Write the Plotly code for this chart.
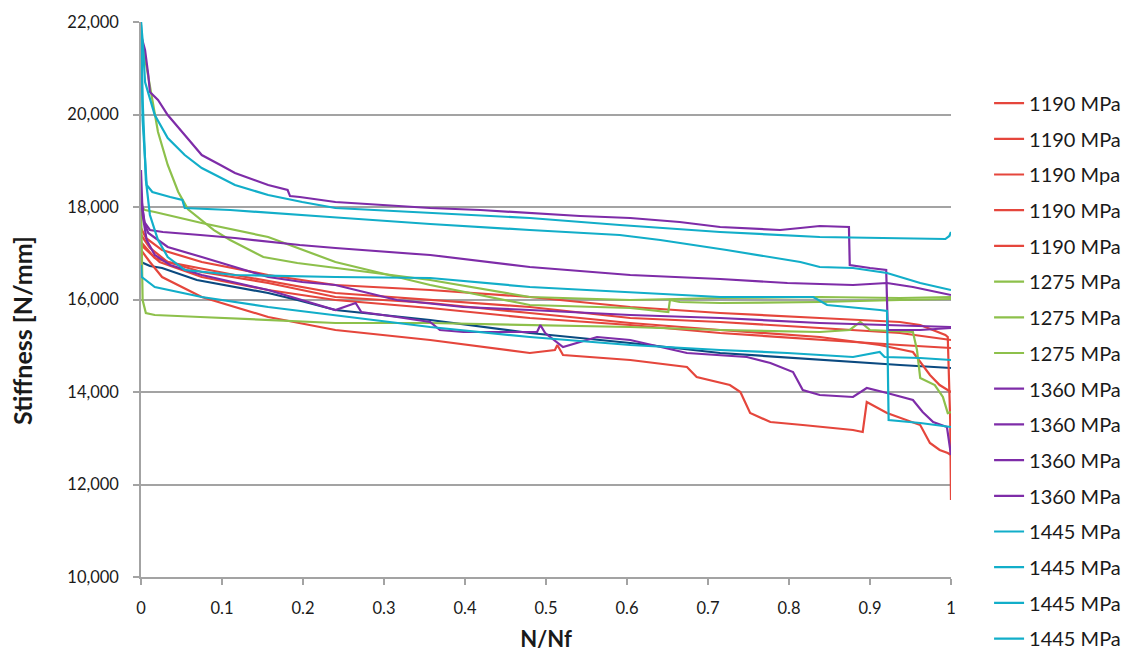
import plotly.graph_objects as go

# ---------------- data ----------------
labels = ["1190 MPa", "1190 MPa", "1190 Mpa", "1190 MPa", "1190 MPa",
          "1275 MPa", "1275 MPa", "1275 MPa",
          "1360 MPa", "1360 MPa", "1360 MPa", "1360 MPa",
          "1445 MPa", "1445 MPa", "1445 MPa", "1445 MPa"]

r1_x = [0, 0.006, 0.026, 0.075, 0.157, 0.240, 0.357, 0.480, 0.604, 0.715, 0.838, 0.937, 0.962, 0.993, 0.996, 0.999, 1.0]
r1_y = [17546, 17330, 17070, 16811, 16530, 16314, 16205, 16054, 15838, 15708, 15600, 15514, 15449, 15232, 15189, 13395, 11665]

r2_x = [0, 0.011, 0.033, 0.116, 0.240, 0.357, 0.480, 0.604, 0.715, 0.838, 0.937, 1.0]
r2_y = [17395, 17114, 16811, 16530, 16141, 15989, 15838, 15600, 15514, 15384, 15276, 15124]

r3_x = [0, 0.017, 0.075, 0.157, 0.240, 0.357, 0.480, 0.604, 0.715, 0.838, 0.912, 0.953, 0.974, 0.986, 1.0]
r3_y = [17243, 16897, 16595, 16357, 16054, 15924, 15708, 15492, 15341, 15189, 15016, 14865, 14368, 14151, 14000]

r4_x = [0, 0.023, 0.075, 0.157, 0.240, 0.357, 0.480, 0.604, 0.715, 0.838, 0.937, 1.0]
r4_y = [17178, 16811, 16486, 16205, 15989, 15816, 15600, 15449, 15276, 15124, 15016, 14951]

r5_x = [0, 0.011, 0.026, 0.075, 0.157, 0.240, 0.357, 0.480, 0.511, 0.514, 0.521, 0.604, 0.674, 0.686,
        0.727, 0.740, 0.752, 0.777, 0.817, 0.879, 0.891, 0.896, 0.921, 0.962, 0.974, 0.986, 0.996, 1.0]
r5_y = [17070, 16811, 16486, 16054, 15622, 15341, 15124, 14843, 14908, 15016, 14800, 14692, 14541, 14324,
        14151, 14000, 13546, 13351, 13286, 13178, 13135, 13784, 13546, 13286, 12897, 12746, 12681, 12638]

g1_x = [0.001, 0.005, 0.014, 0.021, 0.033, 0.046, 0.058, 0.069, 0.090, 0.110, 0.151, 0.193, 0.233, 0.357,
        0.480, 0.604, 0.715, 0.838, 0.937, 1.0]
g1_y = [21611, 21222, 20357, 19622, 18908, 18324, 17950, 17800, 17500, 17286, 16919, 16789, 16703, 16422,
        16054, 15989, 16032, 16054, 16032, 16054]

g2_x = [0, 0.005, 0.017, 0.075, 0.157, 0.240, 0.357, 0.480, 0.604, 0.651, 0.653, 0.665, 0.715, 0.838, 0.937, 1.0]
g2_y = [18000, 17935, 17892, 17654, 17351, 16811, 16314, 15881, 15816, 15730, 15989, 15946, 15924, 15946, 15989, 16011]

g3_x = [0, 0.002, 0.006, 0.017, 0.073, 0.240, 0.357, 0.480, 0.604, 0.715, 0.838, 0.875, 0.888, 0.900,
        0.953, 0.958, 0.962, 0.980, 0.990, 0.996, 1.0]
g3_y = [18151, 15989, 15708, 15665, 15622, 15492, 15492, 15449, 15405, 15341, 15297, 15341, 15514, 15341,
        15297, 14908, 14303, 14151, 13892, 13546, 13568]

p1_x = [0.001, 0.005, 0.009, 0.011, 0.021, 0.033, 0.054, 0.075, 0.098, 0.116, 0.157, 0.181, 0.184, 0.196,
        0.240, 0.295, 0.357, 0.419, 0.480, 0.542, 0.604, 0.665, 0.715, 0.789, 0.814, 0.838, 0.874, 0.875,
        0.900, 0.920, 0.922, 0.962, 1.0]
p1_y = [21654, 21395, 20854, 20486, 20314, 19989, 19557, 19124, 18908, 18735, 18476, 18367, 18237, 18216,
        18108, 18043, 17978, 17935, 17870, 17805, 17762, 17676, 17568, 17503, 17546, 17589, 17568, 16746,
        16681, 16638, 15341, 15341, 15384]

p2_x = [0, 0.004, 0.011, 0.027, 0.073, 0.116, 0.196, 0.240, 0.357, 0.480, 0.604, 0.715, 0.798, 0.879, 0.921, 0.953, 1.0]
p2_y = [18259, 17676, 17503, 17459, 17395, 17330, 17178, 17114, 16962, 16703, 16530, 16443, 16357, 16314, 16357, 16270, 16097]

p3_x = [0, 0.005, 0.009, 0.033, 0.075, 0.116, 0.157, 0.199, 0.240, 0.316, 0.398, 0.480, 0.604, 0.715, 0.838, 1.0]
p3_y = [18151, 17611, 17438, 17135, 16919, 16703, 16486, 16378, 16314, 15989, 15838, 15773, 15665, 15600, 15492, 15405]

p4_x = [0, 0.002, 0.007, 0.017, 0.036, 0.075, 0.157, 0.240, 0.265, 0.272, 0.316, 0.357, 0.369, 0.398,
        0.489, 0.493, 0.499, 0.521, 0.563, 0.604, 0.674, 0.748, 0.777, 0.805, 0.817, 0.838, 0.879, 0.896,
        0.921, 0.953, 0.965, 0.978, 0.995, 0.999, 1.0]
p4_y = [18800, 17827, 17286, 16962, 16746, 16530, 16205, 15773, 15924, 15730, 15622, 15514, 15341, 15297,
        15297, 15449, 15276, 14973, 15189, 15124, 14843, 14757, 14627, 14432, 14043, 13935, 13892, 14086,
        13978, 13827, 13568, 13351, 13243, 12746, 12638]

c1_x = [0, 0.002, 0.005, 0.017, 0.033, 0.054, 0.075, 0.116, 0.157, 0.199, 0.240, 0.357, 0.480, 0.591,
        0.715, 0.838, 0.937, 0.993, 0.998, 1.0]
c1_y = [22000, 21611, 20703, 19989, 19492, 19124, 18843, 18476, 18259, 18108, 17978, 17870, 17762, 17611,
        17459, 17351, 17330, 17308, 17373, 17459]

c2_x = [0, 0.002, 0.007, 0.014, 0.036, 0.051, 0.054, 0.110, 0.233, 0.357, 0.480, 0.591, 0.641, 0.723,
        0.814, 0.838, 0.879, 0.921, 0.962, 1.0]
c2_y = [21935, 19881, 18476, 18324, 18216, 18151, 17978, 17935, 17784, 17632, 17503, 17395, 17286, 17070,
        16811, 16703, 16681, 16573, 16357, 16205]

c3_x = [0, 0.002, 0.006, 0.011, 0.021, 0.033, 0.054, 0.116, 0.240, 0.357, 0.480, 0.604, 0.715, 0.830,
        0.847, 0.912, 0.921, 0.923, 0.962, 1.0]
c3_y = [22000, 20314, 18584, 17827, 17286, 16919, 16638, 16530, 16486, 16465, 16270, 16162, 16054, 16054,
        15881, 15773, 15751, 13395, 13330, 13243]

c4_x = [0, 0.001, 0.017, 0.075, 0.157, 0.240, 0.357, 0.480, 0.604, 0.715, 0.798, 0.879, 0.912, 0.918, 0.962, 1.0]
c4_y = [16746, 16486, 16270, 16054, 15838, 15665, 15405, 15189, 15016, 14908, 14843, 14757, 14865, 14757, 14735, 14692]

n_x = [0, 0.011, 0.026, 0.069, 0.157, 0.193, 0.240, 0.357, 0.480, 0.604, 0.715, 0.838, 0.937, 1.0]
n_y = [16811, 16724, 16681, 16422, 16141, 15989, 15773, 15557, 15276, 15059, 14843, 14692, 14584, 14519]

series_x = [r1_x, r2_x, r3_x, r4_x, r5_x, g1_x, g2_x, g3_x, p1_x, p2_x, p3_x, p4_x, c1_x, c2_x, c3_x, c4_x]
series_y = [r1_y, r2_y, r3_y, r4_y, r5_y, g1_y, g2_y, g3_y, p1_y, p2_y, p3_y, p4_y, c1_y, c2_y, c3_y, c4_y]

RED, GREEN, PURPLE, CYAN, NAVY = "#E5463C", "#8DC04B", "#7E2CA8", "#12AEC9", "#0B4A80"
colors = [RED] * 5 + [GREEN] * 3 + [PURPLE] * 4 + [CYAN] * 4

FONT = "Lato, 'Open Sans', sans-serif"
GRID = "#a3a3a3"

fig = go.Figure()
# extra dark-blue curve (not in legend)
fig.add_trace(go.Scatter(x=n_x, y=n_y, mode="lines", line=dict(color=NAVY, width=2.2),
                         showlegend=False, hoverinfo="skip"))
for i, (xs, ys) in enumerate(zip(series_x, series_y)):
    fig.add_trace(go.Scatter(x=xs, y=ys, mode="lines", name=labels[i],
                             legendgroup=f"g{i}",
                             line=dict(color=colors[i], width=2.2)))

fig.update_layout(
    width=1129, height=652,
    margin=dict(l=141, r=178, t=22, b=75, autoexpand=False),
    paper_bgcolor="white", plot_bgcolor="white",
    font=dict(family=FONT, size=16.5, color="#1a1a1a"),
    legend=dict(x=1.047, xanchor="left", y=0.889, yanchor="top",
                font=dict(size=20), tracegroupgap=6.7, maxheight=800,
                bgcolor="rgba(0,0,0,0)"),
    xaxis=dict(range=[0, 1], dtick=0.1, tick0=0, showgrid=False, zeroline=False,
               showline=True, linecolor=GRID, linewidth=1.5,
               ticks="outside", ticklen=6, tickcolor=GRID, tickwidth=1.5,
               ticklabelstandoff=9,
               title=dict(text="<b>N/Nf</b>", font=dict(size=22), standoff=21)),
    yaxis=dict(range=[10000, 22000], dtick=2000, tickformat=",d",
               showgrid=True, gridcolor=GRID, gridwidth=1.5, zeroline=False,
               showline=True, linecolor=GRID, linewidth=1.5,
               ticks="outside", ticklen=6, tickcolor=GRID, tickwidth=1.5,
               ticklabelstandoff=11),
    annotations=[dict(text="<b>Stiffness [N/mm]</b>", textangle=-90,
                      xref="paper", yref="paper", x=-0.147, y=0.445,
                      xanchor="center", yanchor="middle", showarrow=False,
                      font=dict(size=25))],
)

fig.write_html("out.html")
